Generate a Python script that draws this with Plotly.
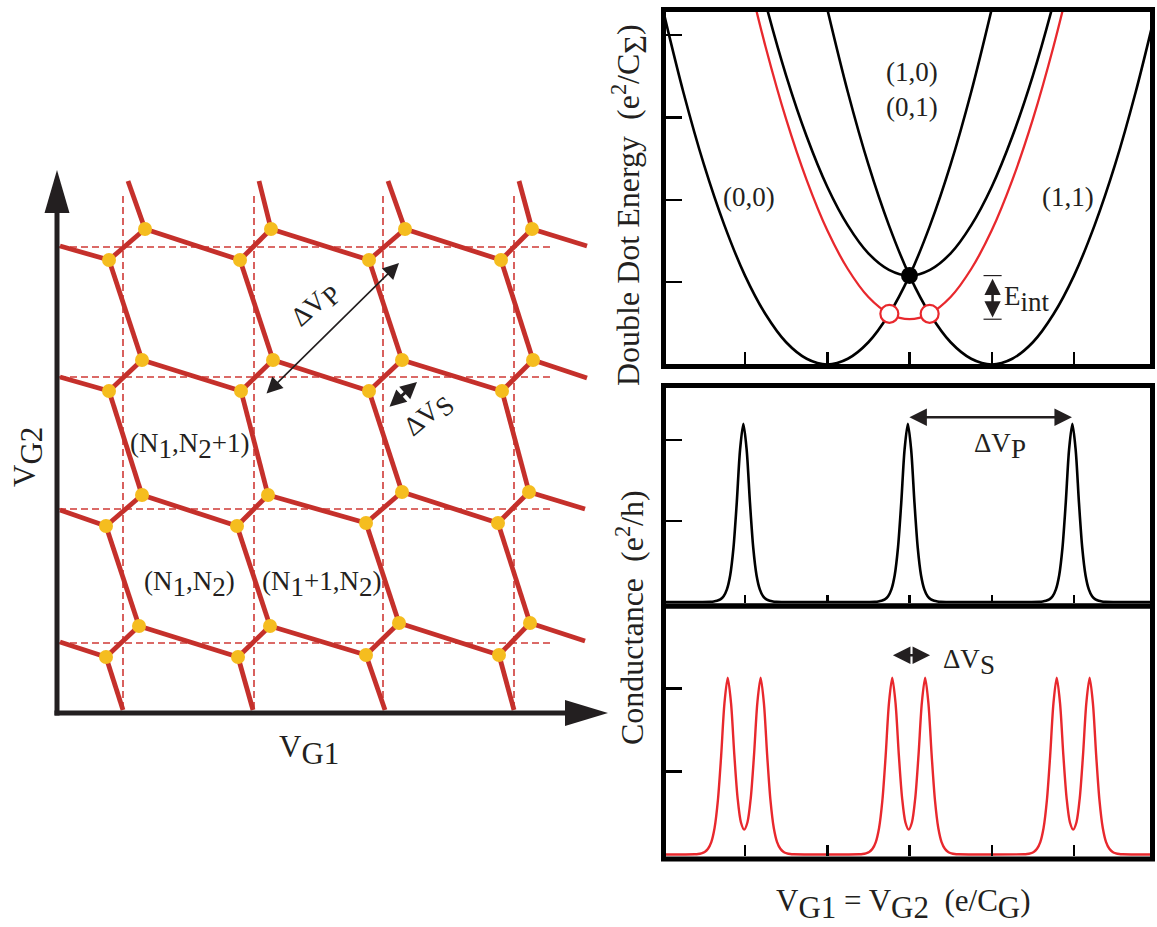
import plotly.graph_objects as go

W, H = 1157, 927

# ---------------- left panel: charge stability diagram (V_G1, V_G2 in arb. units) ----------
# triple points: upper (U) and lower (L) member of each pair, rows top -> bottom
U_X = [[89, 215, 349, 476], [86, 217, 346, 477], [86, 212, 346, 473], [83, 214, 343, 474]]
U_Y = [[482, 482, 482, 482], [351, 351, 351, 351], [216, 216, 219, 219], [85, 85, 88, 88]]
L_X = [[53, 184, 313, 445], [53, 185, 313, 446], [50, 181, 310, 442], [50, 182, 310, 443]]
L_Y = [[451, 451, 451, 451], [320, 320, 320, 320], [185, 185, 188, 188], [54, 54, 56, 56]]
# where the honeycomb lines leave the drawn area
TOP_END_X = [72, 203, 332, 463]
TOP_END_Y = 530
BOTTOM_END_X = [67, 197, 329, 458]
BOTTOM_END_Y = 1
LEFT_END_X = 4
LEFT_END_Y = [465, 334, 201, 69]
RIGHT_END_X = [531, 531, 529, 529]
RIGHT_END_Y = [465, 333, 202, 70]
# dashed guide lines
DASH_V_X = [67, 198, 327, 458]
DASH_V_SPAN = [2, 519]
DASH_H_Y = [464, 334, 202, 68]
DASH_H_SPAN = [3, 496]

# ---------------- top right: double dot energy ----------------
P00_X = [0, 0.25, 0.5, 0.75, 1, 1.25, 1.5, 1.75, 2, 2.25, 2.5, 2.75, 3, 3.25, 3.5, 3.75, 4]
P00_Y = [4.32, 3.31, 2.43, 1.69, 1.08, 0.61, 0.27, 0.07, 0, 0.07, 0.27, 0.61, 1.08, 1.69, 2.43, 3.31, 4.32]
P11_X = [2, 2.25, 2.5, 2.75, 3, 3.25, 3.5, 3.75, 4, 4.25, 4.5, 4.75, 5, 5.25, 5.5, 5.75, 6]
P11_Y = [4.32, 3.31, 2.43, 1.69, 1.08, 0.61, 0.27, 0.07, 0, 0.07, 0.27, 0.61, 1.08, 1.69, 2.43, 3.31, 4.32]
P10_X = [1, 1.25, 1.5, 1.75, 2, 2.25, 2.5, 2.75, 3, 3.25, 3.5, 3.75, 4, 4.25, 4.5, 4.75, 5]
P10_Y = [5.40, 4.39, 3.51, 2.77, 2.16, 1.69, 1.35, 1.15, 1.08, 1.15, 1.35, 1.69, 2.16, 2.77, 3.51, 4.39, 5.40]
PRED_X = [1, 1.25, 1.5, 1.75, 2, 2.25, 2.5, 2.75, 3, 3.25, 3.5, 3.75, 4, 4.25, 4.5, 4.75, 5]
PRED_Y = [4.87, 3.86, 2.98, 2.24, 1.63, 1.16, 0.82, 0.62, 0.55, 0.62, 0.82, 1.16, 1.63, 2.24, 2.98, 3.86, 4.87]
DEGEN_X, DEGEN_Y = [3.0], [1.08]
CROSS_X, CROSS_Y = [2.755, 3.245], [0.616, 0.616]
E_INT_X = 4.01
E_INT_TOP, E_INT_BOT = 1.08, 0.55
TOP_YTICKS = [1, 2, 3, 4]
X_TICKS = [1, 2, 3, 4, 5]

# ---------------- conductance peaks ----------------
PEAK_CENTERS = [0.98, 2.98, 4.98]
PEAK_DX = [-0.40, -0.36, -0.32, -0.28, -0.24, -0.20, -0.16, -0.12, -0.08, -0.04, 0.0,
           0.04, 0.08, 0.12, 0.16, 0.20, 0.24, 0.28, 0.32, 0.36, 0.40]
PEAK_G = [0.003, 0.007, 0.015, 0.032, 0.071, 0.156, 0.331, 0.671, 1.230, 1.882, 2.200,
          1.882, 1.230, 0.671, 0.331, 0.156, 0.071, 0.032, 0.015, 0.007, 0.003]
DOUBLET_CENTERS = [0.99, 2.99, 4.99]
DOUBLET_DX = [-0.60, -0.56, -0.52, -0.48, -0.44, -0.40, -0.36, -0.32, -0.28, -0.24, -0.20,
              -0.16, -0.12, -0.08, -0.04, 0.0, 0.04, 0.08, 0.12, 0.16, 0.20, 0.24, 0.28,
              0.32, 0.36, 0.40, 0.44, 0.48, 0.52, 0.56, 0.60]
DOUBLET_G = [0.003, 0.006, 0.014, 0.031, 0.069, 0.150, 0.320, 0.649, 1.189, 1.821, 2.130,
             1.826, 1.203, 0.680, 0.389, 0.300, 0.389, 0.680, 1.203, 1.826, 2.130, 1.821,
             1.189, 0.649, 0.320, 0.150, 0.069, 0.031, 0.014, 0.006, 0.003]
G_YTICKS = [1, 2]
X_SPAN = [0, 6]
VP_ARROW = [2.98, 4.975, 2.28]
VS_ARROW = [2.78, 3.25, 2.40]

# ---------------- styling ----------------
FONT = "Liberation Serif"
INK = "#231F20"
HEX_RED = "#C5302B"
DASH_RED = "#CF3A36"
DOT_ORANGE = "#F5BD1F"
CURVE_RED = "#E8282D"


def px(x):
    return x / W


def py(y):
    return 1 - y / H


def sub(t, size):
    return '<sub><span style="font-size:%dpx">%s</span></sub>' % (size, t)


fig = go.Figure()

# ---- left panel traces ----
dx, dy = [], []
for x in DASH_V_X:
    dx += [x, x, None]
    dy += [DASH_V_SPAN[0], DASH_V_SPAN[1], None]
for y in DASH_H_Y:
    dx += [DASH_H_SPAN[0], DASH_H_SPAN[1], None]
    dy += [y, y, None]
fig.add_trace(go.Scatter(x=dx, y=dy, mode="lines", xaxis="x", yaxis="y",
                         line=dict(color=DASH_RED, width=1.6, dash="7px,4px"),
                         hoverinfo="skip", showlegend=False))

hx, hy = [], []


def seg(x0, y0, x1, y1):
    hx.extend([x0, x1, None])
    hy.extend([y0, y1, None])


for r in range(4):
    for i in range(4):
        seg(L_X[r][i], L_Y[r][i], U_X[r][i], U_Y[r][i])
        if i < 3:
            seg(U_X[r][i], U_Y[r][i], L_X[r][i + 1], L_Y[r][i + 1])
        else:
            seg(U_X[r][i], U_Y[r][i], RIGHT_END_X[r], RIGHT_END_Y[r])
        if i == 0:
            seg(LEFT_END_X, LEFT_END_Y[r], L_X[r][0], L_Y[r][0])
        if r < 3:
            seg(L_X[r][i], L_Y[r][i], U_X[r + 1][i], U_Y[r + 1][i])
        else:
            seg(L_X[r][i], L_Y[r][i], BOTTOM_END_X[i], BOTTOM_END_Y)
        if r == 0:
            seg(TOP_END_X[i], TOP_END_Y, U_X[0][i], U_Y[0][i])

fig.add_trace(go.Scatter(x=hx, y=hy, mode="lines", xaxis="x", yaxis="y",
                         line=dict(color=HEX_RED, width=4.8),
                         hoverinfo="skip", showlegend=False))

vx = [v for row in U_X for v in row] + [v for row in L_X for v in row]
vy = [v for row in U_Y for v in row] + [v for row in L_Y for v in row]
fig.add_trace(go.Scatter(x=vx, y=vy, mode="markers", xaxis="x", yaxis="y",
                         marker=dict(color=DOT_ORANGE, size=14, line=dict(width=0)),
                         hoverinfo="skip", showlegend=False))

# ---- top right traces ----
fig.add_trace(go.Scatter(x=PRED_X, y=PRED_Y, mode="lines", xaxis="x2", yaxis="y2",
                         line=dict(color=CURVE_RED, width=2.3, shape="spline"),
                         hoverinfo="skip", showlegend=False))
for xs, ys in [(P00_X, P00_Y), (P11_X, P11_Y), (P10_X, P10_Y)]:
    fig.add_trace(go.Scatter(x=xs, y=ys, mode="lines", xaxis="x2", yaxis="y2",
                             line=dict(color="black", width=2.6, shape="spline"),
                             hoverinfo="skip", showlegend=False))
fig.add_trace(go.Scatter(x=DEGEN_X, y=DEGEN_Y, mode="markers", xaxis="x2", yaxis="y2",
                         marker=dict(color="black", size=17),
                         hoverinfo="skip", showlegend=False))
fig.add_trace(go.Scatter(x=CROSS_X, y=CROSS_Y, mode="markers", xaxis="x2", yaxis="y2",
                         marker=dict(color="white", size=18, line=dict(color=CURVE_RED, width=2.2)),
                         hoverinfo="skip", showlegend=False))

# ---- conductance traces ----
gx, gy = [X_SPAN[0]], [0]
for c in PEAK_CENTERS:
    gx += [c + d for d in PEAK_DX]
    gy += PEAK_G
gx.append(X_SPAN[1]); gy.append(0)
fig.add_trace(go.Scatter(x=gx, y=gy, mode="lines", xaxis="x3", yaxis="y3",
                         line=dict(color="black", width=2.6, shape="spline", smoothing=0.8),
                         hoverinfo="skip", showlegend=False))

rx, ry = [X_SPAN[0]], [0]
for c in DOUBLET_CENTERS:
    rx += [c + d for d in DOUBLET_DX]
    ry += DOUBLET_G
rx.append(X_SPAN[1]); ry.append(0)
fig.add_trace(go.Scatter(x=rx, y=ry, mode="lines", xaxis="x4", yaxis="y4",
                         line=dict(color=CURVE_RED, width=2.4, shape="spline", smoothing=0.8),
                         hoverinfo="skip", showlegend=False))

# ---- axes ----
XR = [0.0395, 5.924]
common = dict(showgrid=False, zeroline=False, showline=False, showticklabels=False,
              ticks="inside", tickcolor="black", tickwidth=2.5, fixedrange=True)
fig.update_layout(
    width=W, height=H, margin=dict(l=0, r=0, t=0, b=0),
    paper_bgcolor="white", plot_bgcolor="rgba(0,0,0,0)",
    showlegend=False,
    xaxis=dict(domain=[0, px(620)], range=[-56, 564], visible=False, fixedrange=True),
    yaxis=dict(domain=[py(790), py(150)], range=[-79, 561], visible=False, fixedrange=True),
    xaxis2=dict(domain=[px(666), px(1150)], range=XR, anchor="y2", tickvals=X_TICKS, ticklen=12, **common),
    yaxis2=dict(domain=[py(364), py(12)], range=[0.006, 4.282], anchor="x2", tickvals=TOP_YTICKS, ticklen=16, **common),
    xaxis3=dict(domain=[px(666), px(1150)], range=XR, anchor="y3", tickvals=X_TICKS, ticklen=8, **common),
    yaxis3=dict(domain=[py(603), py(388)], range=[-0.0123, 2.642], anchor="x3", tickvals=G_YTICKS, ticklen=16, **common),
    xaxis4=dict(domain=[px(666), px(1150)], range=XR, anchor="y4", tickvals=X_TICKS, ticklen=11, **common),
    yaxis4=dict(domain=[py(856), py(609)], range=[-0.018, 2.958], anchor="x4", tickvals=G_YTICKS, ticklen=16, **common),
)

shapes = []
# panel frames
for (t, b) in [(9.5, 366.5), (385.5, 606), (606, 859)]:
    shapes.append(dict(type="rect", xref="paper", yref="paper", x0=px(663.5), x1=px(1152.5),
                       y0=py(b), y1=py(t), line=dict(color="black", width=5), layer="above"))
# left panel axis arrows
AX_X, AX_Y = 1, -2
V_TIP, V_BASE, H_TIP, H_BASE = 541, 498, 552, 509
shapes.append(dict(type="line", xref="x", yref="y", x0=AX_X, x1=AX_X, y0=AX_Y - 2.5, y1=V_BASE + 2,
                   line=dict(color=INK, width=5)))
shapes.append(dict(type="line", xref="x", yref="y", x0=AX_X - 2.5, x1=H_BASE + 2, y0=AX_Y, y1=AX_Y,
                   line=dict(color=INK, width=5)))
shapes.append(dict(type="path", xref="x", yref="y",
                   path="M %g,%g L %g,%g L %g,%g Z" % (AX_X - 12.5, V_BASE, AX_X + 12.5, V_BASE, AX_X, V_TIP),
                   fillcolor=INK, line=dict(width=0)))
shapes.append(dict(type="path", xref="x", yref="y",
                   path="M %g,%g L %g,%g L %g,%g Z" % (H_BASE, AX_Y + 13, H_BASE, AX_Y - 13, H_TIP, AX_Y),
                   fillcolor=INK, line=dict(width=0)))
# E_int bars
for yv in [E_INT_TOP, E_INT_BOT]:
    shapes.append(dict(type="line", xref="x2", yref="y2", x0=E_INT_X - 0.11, x1=E_INT_X + 0.11,
                       y0=yv, y1=yv, line=dict(color=INK, width=1.2)))
fig.update_layout(shapes=shapes)

ann = []


def txt(x, y, text, size, xref="x", yref="y", angle=0, xanchor="center", yanchor="middle"):
    ann.append(dict(x=x, y=y, xref=xref, yref=yref, text=text, showarrow=False,
                    textangle=angle, xanchor=xanchor, yanchor=yanchor,
                    font=dict(family=FONT, size=size, color=INK)))


def arrow(x0, y0, x1, y1, xref, yref, width, size):
    ann.append(dict(x=x1, y=y1, ax=x0, ay=y0, xref=xref, yref=yref, axref=xref, ayref=yref,
                    text="", showarrow=True, arrowhead=2, startarrowhead=2, arrowside="end+start",
                    arrowwidth=width, arrowsize=size, startarrowsize=size, arrowcolor=INK,
                    standoff=0, startstandoff=0))


# left panel texts
txt(-28, 254, "V" + sub("G2", 31), 31, angle=-90)
txt(253, -39, "V" + sub("G1", 31), 31)
txt(133, 265, "(N" + sub("1", 27) + ",N" + sub("2", 27) + "+1)", 27)
txt(133, 127, "(N" + sub("1", 27) + ",N" + sub("2", 27) + ")", 27)
txt(265, 127, "(N" + sub("1", 27) + "+1,N" + sub("2", 27) + ")", 27)
txt(260, 405, "\u0394V" + sub("P", 27), 27, angle=-42)
txt(373, 295, "\u0394V" + sub("S", 27), 27, angle=-40)
arrow(209, 316, 343, 448, "x", "y", 1.6, 2.0)
arrow(332, 303, 361, 329, "x", "y", 3.0, 1.1)

# top right texts
txt(3.03, 3.55, "(1,0)", 27, "x2", "y2")
txt(3.03, 3.13, "(0,1)", 27, "x2", "y2")
txt(1.05, 2.03, "(0,0)", 27, "x2", "y2")
txt(4.93, 2.03, "(1,1)", 27, "x2", "y2")
txt(4.12, 0.80, "E" + sub("int", 27), 27, "x2", "y2", xanchor="left")
arrow(E_INT_X, E_INT_TOP - 0.02, E_INT_X, E_INT_BOT + 0.02, "x2", "y2", 2.5, 1.3)

# conductance annotations
arrow(VP_ARROW[0], VP_ARROW[2], VP_ARROW[1], VP_ARROW[2], "x3", "y3", 2.5, 1.4)
txt(3.76, 1.93, "\u0394V" + sub("P", 27), 27, "x3", "y3", xanchor="left")
arrow(VS_ARROW[0], VS_ARROW[2], VS_ARROW[1], VS_ARROW[2], "x4", "y4", 2.5, 1.4)
txt(3.38, 2.32, "\u0394V" + sub("S", 27), 27, "x4", "y4", xanchor="left")

# axis titles (right)
txt(px(630), py(205), "Double Dot Energy\u00a0\u00a0(e<sup>2</sup>/C" + sub("\u03a3", 32) + ")", 32,
    "paper", "paper", angle=-90)
txt(px(630), py(618), "Conductance\u00a0\u00a0(e<sup>2</sup>/h)", 32, "paper", "paper", angle=-90)
txt(px(903), py(904), "V" + sub("G1", 31) + " = V" + sub("G2", 31) + "\u00a0\u00a0(e/C" + sub("G", 31) + ")",
    31, "paper", "paper")

fig.update_layout(annotations=ann)

fig.write_html("out.html", include_plotlyjs=True, full_html=True,
               config={"displayModeBar": False, "staticPlot": True},
               post_script="document.body.style.margin='0';document.body.style.overflow='hidden';")
